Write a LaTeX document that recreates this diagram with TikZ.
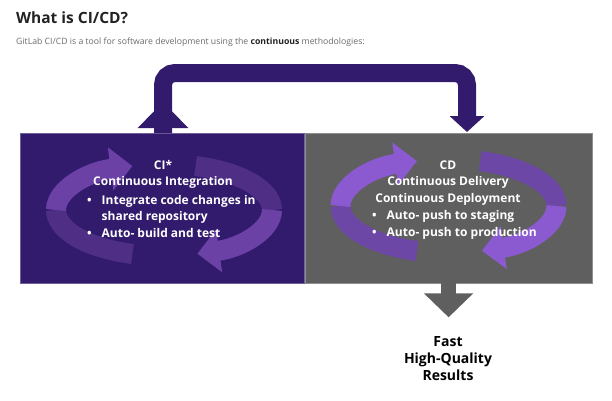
\documentclass[tikz,border=0pt]{standalone}
\usepackage{fontspec}
\setmainfont{Open Sans}
\usepackage{xcolor}
\usetikzlibrary{arrows.meta, positioning, calc}

\definecolor{ciback}{HTML}{321B6D}
\definecolor{cdback}{HTML}{5F5F5F}
\definecolor{cifront}{HTML}{6C41A6}
\definecolor{cirear}{HTML}{4F2F86}
\definecolor{cdfront}{HTML}{8C5AD0}
\definecolor{cdrear}{HTML}{6C47A5}
\definecolor{subgray}{HTML}{6B6B6B}
\definecolor{titleblack}{HTML}{222222}

\begin{document}
\begin{tikzpicture}[
    x=1pt, y=1pt,
    panel/.style={rectangle, inner sep=0pt, minimum height=150pt, line width=0.6pt},
    heading/.style={align=center, text=white, inner sep=0pt,
                    font=\bfseries\fontsize{12}{16.7}\selectfont},
    items/.style={anchor=west, text=white, inner sep=0pt,
                  font=\bfseries\fontsize{12}{16.7}\selectfont},
    ring/.style={line width=20pt},
    ringtip/.style={ring, -{Triangle[length=22pt, width=42pt]}},
    looparr/.style={draw=ciback, line width=18pt, rounded corners=12pt},
    outarr/.style={draw=cdback, line width=15pt, -{Triangle[length=24pt, width=48pt]}},
]

\useasboundingbox (0,0) rectangle (612,400);

%% Heading
\node[anchor=base west, inner sep=0pt, text=titleblack,
      font=\bfseries\fontsize{15.5}{18}\selectfont] (title) at (16,377) {What is CI/CD?};
\node[anchor=base west, inner sep=0pt, text=subgray,
      font=\fontsize{8.7}{10}\selectfont] (intro) at (16,355.5)
    {GitLab CI/CD is a tool for software development using the \textbf{\color{titleblack}continuous} methodologies:};

%% Panels
\node[panel, fill=ciback, draw=ciback!70!white, minimum width=284pt] (ci) at (162.5,192) {};
\node[panel, fill=cdback, draw=cdback!70!white, minimum width=287pt, right=0pt of ci] (cd) {};

%% Cycle arrows -- CI
\coordinate (cimid) at (164,190);
\draw[ring, cirear] ($(cimid)+(253:108 and 46)$)
    arc[start angle=253, end angle=180, x radius=108, y radius=46];
\draw[ringtip, cifront] ($(cimid)+(180:108 and 46)$)
    arc[start angle=180, end angle=107, x radius=108, y radius=46];
\draw[ring, cirear] ($(cimid)+(73:108 and 46)$)
    arc[start angle=73, end angle=0, x radius=108, y radius=46];
\draw[ringtip, cifront] ($(cimid)+(0:108 and 46)$)
    arc[start angle=0, end angle=-72, x radius=108, y radius=46];

%% Cycle arrows -- CD
\coordinate (cdmid) at (448.5,194);
\draw[ring, cdrear] ($(cdmid)+(253:108 and 47)$)
    arc[start angle=253, end angle=180, x radius=108, y radius=47];
\draw[ringtip, cdfront] ($(cdmid)+(180:108 and 47)$)
    arc[start angle=180, end angle=107, x radius=108, y radius=47];
\draw[ring, cdrear] ($(cdmid)+(73:108 and 47)$)
    arc[start angle=73, end angle=0, x radius=108, y radius=47];
\draw[ringtip, cdfront] ($(cdmid)+(0:108 and 47)$)
    arc[start angle=0, end angle=-72, x radius=108, y radius=47];

%% Panel texts
\node[heading] (cihead) at (163,225.5) {CI*\\Continuous Integration};
\node[items] (ciitems) at (87,182.5) {\begin{tabular}{@{}l@{\hspace{10pt}}l@{}}
    \textbullet & Integrate code changes in\\
                & shared repository\\
    \textbullet & Auto- build and test
  \end{tabular}};

\node[heading] (cdhead) at (448,217) {CD\\Continuous Delivery\\Continuous Deployment};
\node[items] (cditems) at (372,175.5) {\begin{tabular}{@{}l@{\hspace{10pt}}l@{}}
    \textbullet & Auto- push to staging\\
    \textbullet & Auto- push to production
  \end{tabular}};

%% Feedback loop CI <-> CD
\coordinate (loopstart) at (163,267);
\coordinate (loopend) at (467,268);
\draw[looparr, -{Triangle[length=16pt, width=34pt]}] (loopstart) -- ++(0,60) -| (loopend);
\draw[draw=ciback, line width=18pt, -{Triangle[length=26pt, width=49pt]}] (loopstart) -- ++(0,31);

%% Output
\draw[outarr] (cd.south) -- ++(0,-34);
\node[heading, text=black, font=\bfseries\fontsize{14}{17}\selectfont] (results) at (448,41)
    {Fast\\High-Quality\\Results};

\end{tikzpicture}
\end{document}
